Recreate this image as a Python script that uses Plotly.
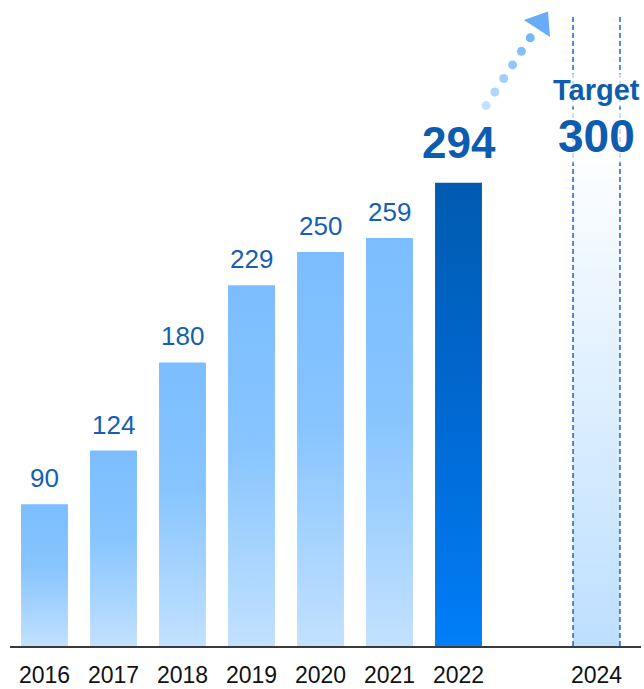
import plotly.graph_objects as go

# Yearly values
years = [2016, 2017, 2018, 2019, 2020, 2021, 2022]
values = [90, 124, 180, 229, 250, 259, 294]
target_year = 2024
target_value = 300
tick_years = [2016, 2017, 2018, 2019, 2020, 2021, 2022, 2024]
tick_labels = ["2016", "2017", "2018", "2019", "2020", "2021", "2022", "2024"]

BAR_W = 0.68
FONT = "Liberation Sans, Arial, sans-serif"
LABEL_COLOR = "#1560b2"

light_scale = [[0, "#c2e1ff"], [0.55, "#88c5ff"], [1, "#7bbdff"]]
dark_scale = [[0, "#007ef8"], [0.5, "#0069d2"], [1, "#005bb0"]]
target_scale = [[0, "#bddfff"], [0.8, "#ffffff"], [1, "#ffffff"]]

fig = go.Figure()


def bar_shape(x, top, bottom=0):
    h = BAR_W / 2
    return [x - h, x - h, x + h, x + h, x - h], [bottom, top, top, bottom, bottom]


# target column (gradient fill + dashed edges)
col_top = 400
xs, ys = bar_shape(target_year, col_top)
fig.add_trace(go.Scatter(
    x=xs, y=ys, mode="lines", fill="toself", line=dict(width=0),
    fillgradient=dict(type="vertical", colorscale=target_scale),
    hoverinfo="skip"))
for edge in (target_year - BAR_W / 2, target_year + BAR_W / 2):
    fig.add_trace(go.Scatter(
        x=[edge, edge], y=[0, col_top], mode="lines",
        line=dict(color="#1769cc", width=1.5, dash="5px,3px"),
        hoverinfo="skip"))

# bars with vertical gradient
for yr, v in zip(years, values):
    xs, ys = bar_shape(yr, v)
    scale = dark_scale if yr == years[-1] else light_scale
    fig.add_trace(go.Scatter(
        x=xs, y=ys, mode="lines", fill="toself", line=dict(width=0),
        fillgradient=dict(type="vertical", colorscale=scale),
        hoverinfo="skip"))

# dotted growth arrow from the latest bar toward the target
arrow_start = (2022.40, 343)
arrow_end = (2023.04, 386)
n_dots = 6
dot_x = [arrow_start[0] + (arrow_end[0] - arrow_start[0]) * i / (n_dots - 1) for i in range(n_dots)]
dot_y = [arrow_start[1] + (arrow_end[1] - arrow_start[1]) * i / (n_dots - 1) for i in range(n_dots)]
dot_colors = ["#c2e1ff", "#afd7ff", "#a0cfff", "#92c7fd", "#84bffa", "#78b7f7"]
fig.add_trace(go.Scatter(
    x=dot_x, y=dot_y, mode="markers",
    marker=dict(size=9, color=dot_colors, line=dict(width=0)),
    hoverinfo="skip"))
fig.add_trace(go.Scatter(
    x=[2023.19], y=[395.5], mode="markers",
    marker=dict(symbol="triangle-up", size=27, angle=33, color="#68abf6",
                line=dict(width=0)),
    hoverinfo="skip"))

# value labels
for yr, v in zip(years, values):
    last = yr == years[-1]
    fig.add_annotation(
        x=yr, y=v, text=f"<b>{v}</b>" if last else str(v),
        showarrow=False, yanchor="bottom", yshift=14 if last else 9,
        font=dict(family=FONT, size=44 if last else 26, color="#0d5cb0" if last else LABEL_COLOR))

halo = "rgba(255,255,255,0.7)"
fig.add_annotation(
    x=target_year, y=target_value, text=f"<b>{target_value}</b>",
    showarrow=False, yanchor="bottom", yshift=10, bgcolor=halo, borderpad=0,
    font=dict(family=FONT, size=46, color="#0d5cb0"))
fig.add_annotation(
    x=target_year, y=target_value, text="<b>Target</b>",
    showarrow=False, yanchor="bottom", yshift=66, bgcolor=halo, borderpad=0,
    font=dict(family=FONT, size=29, color="#0d5cb0"))

fig.update_layout(
    width=644, height=689,
    margin=dict(l=10, r=3, t=0, b=43),
    paper_bgcolor="white", plot_bgcolor="white",
    showlegend=False,
    xaxis=dict(
        range=[2015.5, 2024.645], tickmode="array",
        tickvals=tick_years, ticktext=tick_labels,
        tickfont=dict(family=FONT, size=23, color="#111111"),
        ticklabelstandoff=7, automargin=False,
        showgrid=False, zeroline=False, showline=True,
        linecolor="#3a3a3a", linewidth=2, ticks="", fixedrange=True),
    yaxis=dict(
        range=[0, 410], visible=False, showgrid=False, zeroline=False,
        fixedrange=True, automargin=False),
)

fig.write_html("out.html", config={"displayModeBar": False})
